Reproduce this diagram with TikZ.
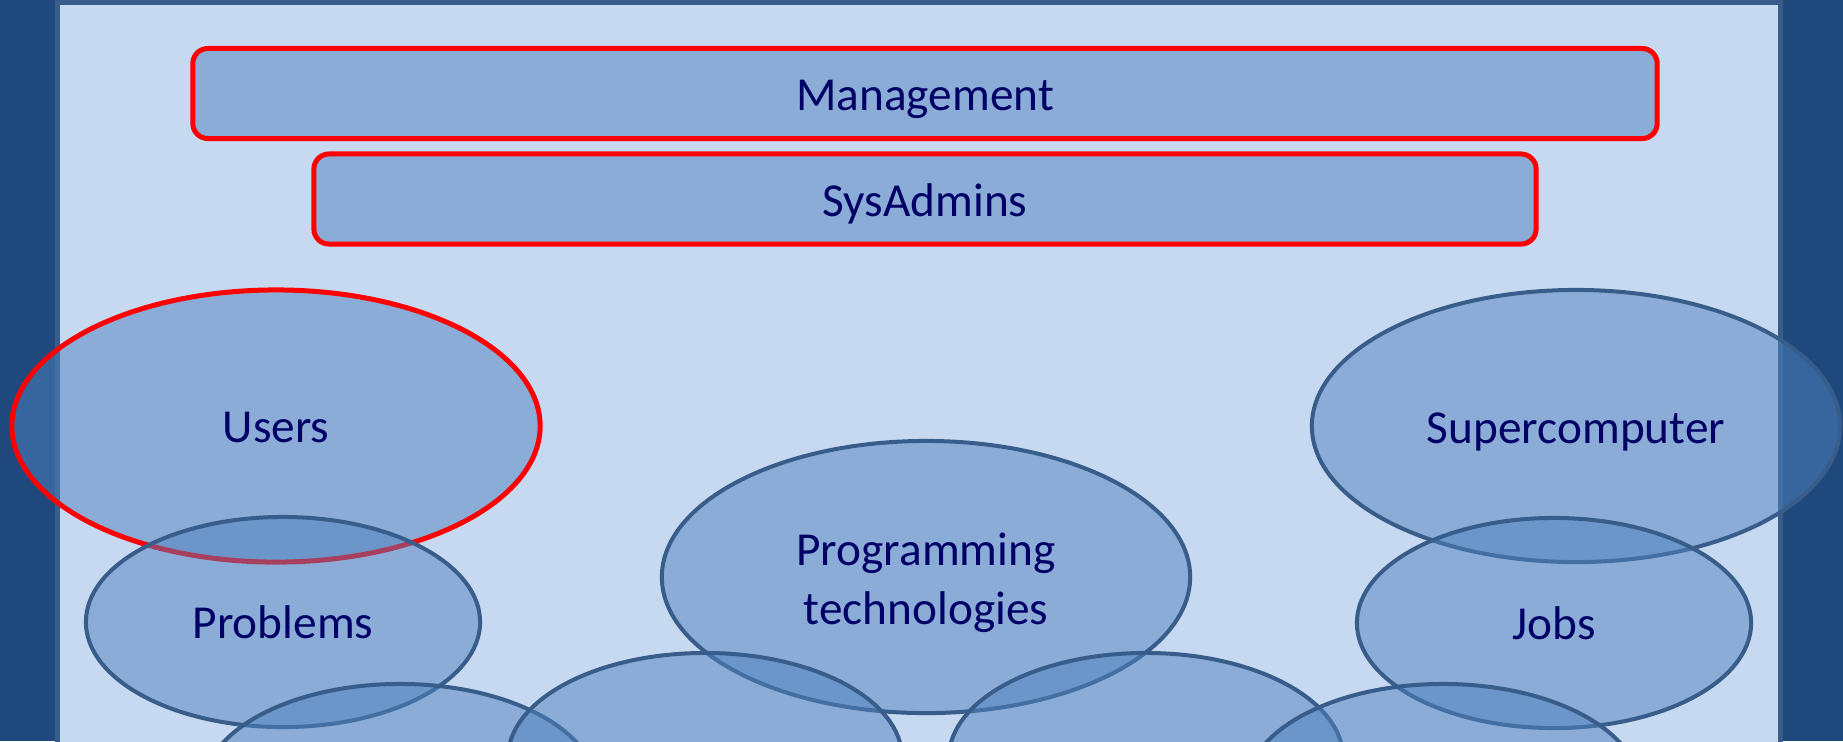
\documentclass[tikz,border=0pt]{standalone}
\usepackage{fontspec}
\setmainfont{Carlito}
\usetikzlibrary{shapes.geometric}
\definecolor{slidebg}{HTML}{1F497D}
\definecolor{panelfill}{HTML}{C6D9F1}
\definecolor{shapeline}{HTML}{385D8A}
\definecolor{shapefill}{HTML}{4F81BD}
\definecolor{labelnavy}{HTML}{000066}

\begin{document}
\begin{tikzpicture}[
    x=0.01cm, y=-0.01cm,
    label/.style={font=\fontsize{13.45}{16.7}\selectfont, text=labelnavy, align=center, text opacity=1,
                  text height=0.36cm, text depth=0.04cm},
    layer/.style={label, rectangle, rounded corners=0.15cm, draw=red, line width=1.42pt,
                  fill=shapefill, fill opacity=0.5, minimum height=0.9cm, inner sep=0pt},
    blob/.style={label, ellipse, draw=shapeline, line width=1.14pt,
                 fill=shapefill, fill opacity=0.5, inner sep=0pt},
    bigblob/.style={blob, minimum width=5.28cm, minimum height=2.72cm},
    smallblob/.style={blob, minimum width=3.94cm, minimum height=2.10cm}
  ]
    \clip (0,0) rectangle (1843,741);
    \fill[slidebg] (0,0) rectangle (1843,741);
    \draw[shapeline, line width=1.42pt, fill=panelfill] (57.5,2.5) rectangle (1780.5,800);

    \node[layer, minimum width=14.635cm, text depth=0.03cm] (mgmt) at (925,93.5) {Management};
    \node[layer, minimum width=12.215cm, text depth=0.02cm] (admins) at (925,199) {SysAdmins};

    \node[bigblob, draw=red, line width=1.42pt] (users) at (276,426) {Users};
    \node[smallblob] (problems) at (283,622) {Problems};
    \node[bigblob, text height=1.0cm, text depth=0.06cm] (progtech) at (926,577) {Programming\\technologies};
    \node[bigblob, text depth=0.02cm] (super) at (1576,426) {Supercomputer};
    \node[smallblob] (jobs) at (1554,623) {Jobs};
    \node[smallblob] (low1) at (400,789) {};
    \node[smallblob] (low2) at (705,758) {};
    \node[smallblob] (low3) at (1146,758) {};
    \node[smallblob] (low4) at (1443,789) {};
  \end{tikzpicture}
\end{document}
